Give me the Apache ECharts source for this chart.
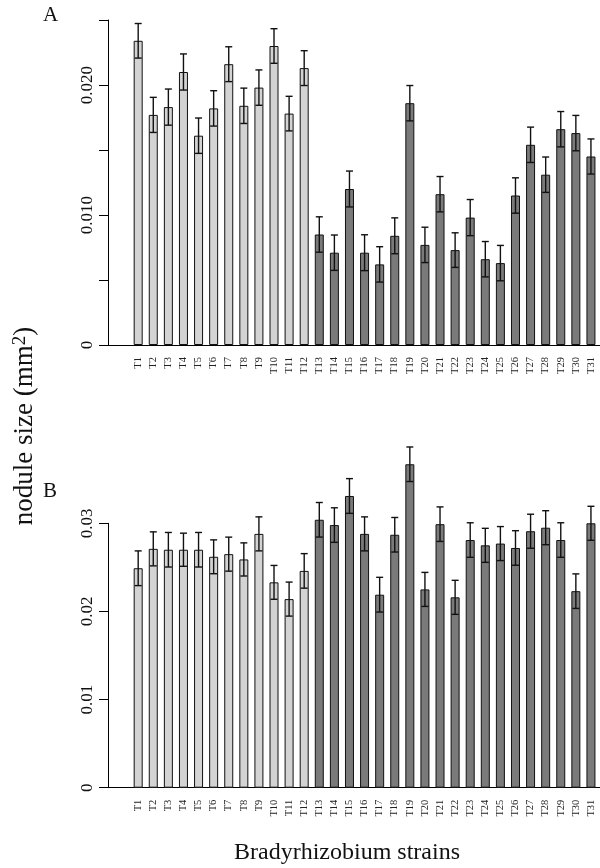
<!DOCTYPE html>
<html>
<head>
<meta charset="utf-8">
<script src="https://cdn.jsdelivr.net/npm/echarts@6/dist/echarts.min.js"></script>
<style>
  html, body { margin: 0; padding: 0; background: #fff; }
  #chart { width: 600px; height: 868px; }
</style>
</head>
<body>
<div id="chart"></div>
<script>
var strains = ['T1','T2','T3','T4','T5','T6','T7','T8','T9','T10','T11','T12','T13','T14','T15','T16',
  'T17','T18','T19','T20','T21','T22','T23','T24','T25','T26','T27','T28','T29','T30','T31'];

// panel A: mean nodule size and error
var sizeA = [0.0234,0.0177,0.0183,0.0210,0.0161,0.0182,0.0216,0.0184,0.0198,0.0230,0.0178,0.0213,
  0.0085,0.0071,0.0120,0.0071,0.0062,0.0084,0.0186,0.0077,0.0116,0.0073,0.0098,0.0066,0.0063,
  0.0115,0.0154,0.0131,0.0166,0.0163,0.0145];
var errA = [0.00133,0.00135,0.00139,0.00139,0.00136,0.00136,0.00134,0.00136,0.00136,0.00133,0.00133,0.00134,
  0.00136,0.00136,0.00138,0.00138,0.00136,0.00138,0.00136,0.00136,0.00136,0.00133,0.00139,0.00136,0.00136,
  0.00136,0.00136,0.00136,0.00136,0.00136,0.00135];

// panel B
var sizeB = [0.0249,0.0271,0.0270,0.0270,0.0270,0.0262,0.0265,0.0259,0.0288,0.0233,0.0214,0.0246,
  0.0304,0.0298,0.0331,0.0288,0.0219,0.0287,0.0367,0.0225,0.0299,0.0216,0.0281,0.0275,0.0277,
  0.0272,0.0291,0.0295,0.0281,0.0223,0.0300];
var errB = [0.00197,0.00193,0.00196,0.00188,0.00196,0.00192,0.00193,0.00188,0.00193,0.00192,0.00193,0.00196,
  0.00196,0.00196,0.00197,0.00193,0.00197,0.00196,0.00196,0.00193,0.00196,0.00193,0.00196,0.00193,0.00193,
  0.00196,0.00193,0.00193,0.00196,0.00196,0.00193];

var nLight = 12;
var lightCol = '#d3d3d3', darkCol = '#7a7a7a';
var serif = 'Liberation Serif';

function barData(vals) {
  return vals.map(function (v, i) { return [i, v]; });
}
function errData(vals, errs) {
  return vals.map(function (v, i) { return [i, v, errs[i]]; });
}

function renderErr(params, api) {
  var x = api.value(0), v = api.value(1), e = api.value(2);
  var top = api.coord([x, v + e]);
  var bot = api.coord([x, v - e]);
  var cap = 3.5;
  var st = { stroke: '#111', lineWidth: 1.4 };
  return {
    type: 'group',
    children: [
      { type: 'line', shape: { x1: top[0], y1: top[1], x2: bot[0], y2: bot[1] }, style: st },
      { type: 'line', shape: { x1: top[0] - cap, y1: top[1], x2: top[0] + cap, y2: top[1] }, style: st },
      { type: 'line', shape: { x1: bot[0] - cap, y1: bot[1], x2: bot[0] + cap, y2: bot[1] }, style: st }
    ]
  };
}

function xAxisFor(idx) {
  return {
    type: 'value', gridIndex: idx, min: -2, max: 30.6, interval: 1,
    splitLine: { show: false }, axisTick: { show: false },
    axisLine: { onZero: false, lineStyle: { color: '#000', width: 1 } },
    axisLabel: {
      rotate: 90, margin: 12, fontFamily: serif, fontSize: 10.5, color: '#222',
      showMinLabel: true, showMaxLabel: true, hideOverlap: false,
      formatter: function (v) {
        var i = Math.round(v);
        if (Math.abs(v - i) > 1e-6 || i < 0 || i >= strains.length) return '';
        return strains[i];
      }
    }
  };
}

function yAxisFor(idx, max, step, labelFn) {
  return {
    type: 'value', gridIndex: idx, min: 0, max: max, interval: step,
    splitLine: { show: false },
    axisLine: { show: true, onZero: false, lineStyle: { color: '#000' } },
    axisTick: { show: true, length: 9, lineStyle: { color: '#000' } },
    axisLabel: { rotate: 90, margin: 12, fontFamily: serif, fontSize: 17, color: '#111', formatter: labelFn }
  };
}

var chart = echarts.init(document.getElementById('chart'), null, { renderer: 'canvas' });
chart.setOption({
  animation: false,
  backgroundColor: '#fff',
  grid: [
    { left: 108, right: 0, top: 20, height: 325 },
    { left: 108, right: 0, top: 523.3, height: 264.4 }
  ],
  xAxis: [xAxisFor(0), xAxisFor(1)],
  yAxis: [
    yAxisFor(0, 0.025, 0.005, function (v) {
      var r = Math.round(v / 0.005);
      if (r % 2) return '';
      return r === 0 ? '0' : (r * 0.005).toFixed(3);
    }),
    yAxisFor(1, 0.03, 0.01, function (v) {
      var r = Math.round(v / 0.01);
      return r === 0 ? '0' : (r * 0.01).toFixed(2);
    })
  ],
  series: [
    {
      type: 'bar', xAxisIndex: 0, yAxisIndex: 0, barWidth: 9, clip: false,
      data: barData(sizeA),
      itemStyle: {
        borderColor: '#111', borderWidth: 1,
        color: function (p) { return p.dataIndex < nLight ? lightCol : darkCol; }
      }
    },
    {
      type: 'custom', xAxisIndex: 0, yAxisIndex: 0, renderItem: renderErr,
      data: errData(sizeA, errA), z: 5
    },
    {
      type: 'bar', xAxisIndex: 1, yAxisIndex: 1, barWidth: 9, clip: false,
      data: barData(sizeB),
      itemStyle: {
        borderColor: '#111', borderWidth: 1,
        color: function (p) { return p.dataIndex < nLight ? lightCol : darkCol; }
      }
    },
    {
      type: 'custom', xAxisIndex: 1, yAxisIndex: 1, renderItem: renderErr,
      data: errData(sizeB, errB), z: 5
    }
  ],
  graphic: [
    { type: 'text', left: 43, top: 5, style: { text: 'A', font: '21px "Liberation Serif"', fill: '#111' } },
    { type: 'text', left: 43, top: 481, style: { text: 'B', font: '21px "Liberation Serif"', fill: '#111' } },
    {
      type: 'text', x: 25, y: 426, rotation: Math.PI / 2,
      style: {
        text: '{a|nodule size (mm}{s|2}{a|)}',
        align: 'center', verticalAlign: 'middle',
        rich: {
          a: { fontFamily: serif, fontSize: 27, fill: '#111', color: '#111' },
          s: { fontFamily: serif, fontSize: 19, fill: '#111', color: '#111', verticalAlign: 'top', padding: [0, 0, 10, 0] }
        }
      }
    },
    {
      type: 'text', x: 347, y: 853,
      style: { text: 'Bradyrhizobium strains', font: '24px "Liberation Serif"', fill: '#111', align: 'center', verticalAlign: 'middle' }
    }
  ]
});
</script>
</body>
</html>
